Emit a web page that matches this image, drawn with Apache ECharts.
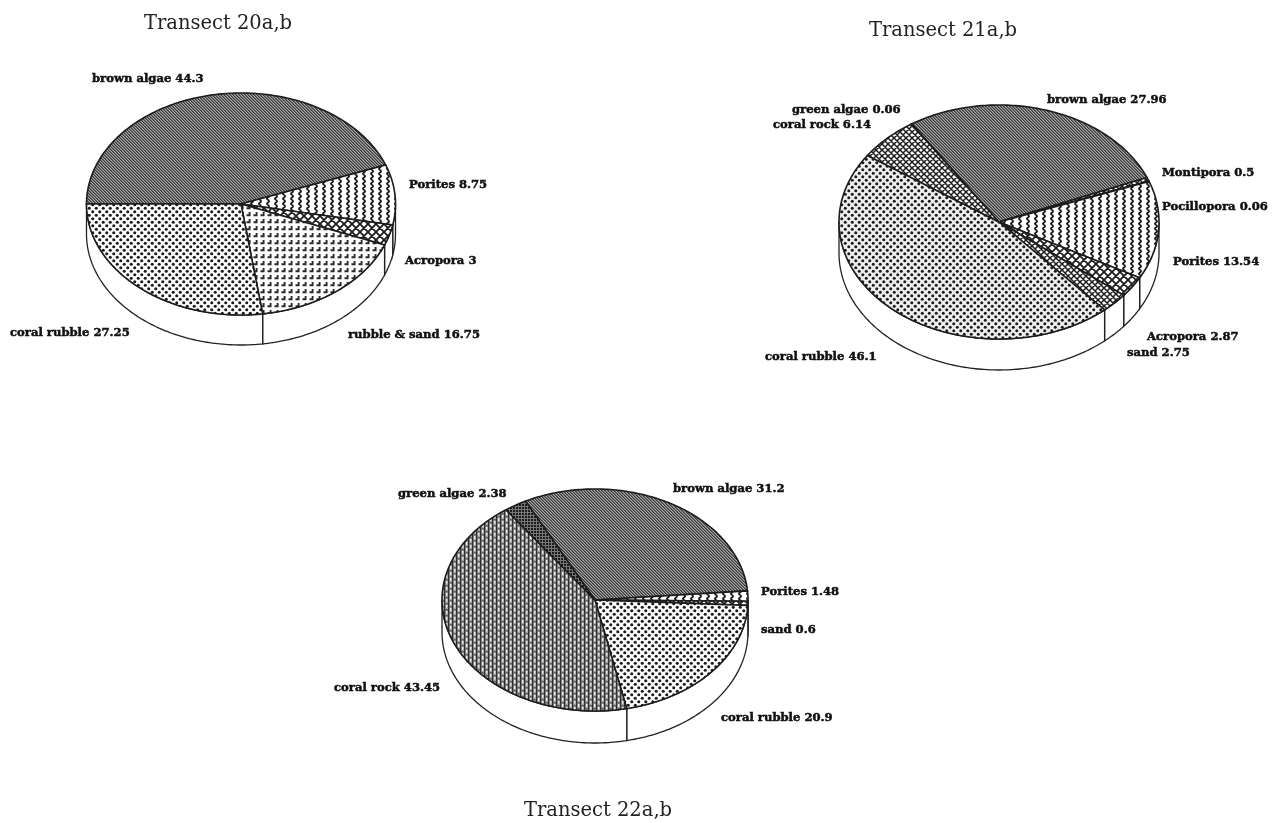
<!DOCTYPE html>
<html><head><meta charset="utf-8">
<style>html,body{margin:0;padding:0;background:#fff}#c{width:1286px;height:823px;filter:blur(0.6px)}</style>
<script src="https://cdn.jsdelivr.net/npm/echarts@6/dist/echarts.min.js"></script>
</head><body><div id="c"></div>
<script>
// ---- data ----
const names20 = ['brown algae','Porites','Acropora','rubble & sand','coral rubble'];
const values20 = [44.3,8.75,3,16.75,27.25];
const names21 = ['green algae','brown algae','Montipora','Pocillopora','Porites','Acropora','sand','coral rubble','coral rock'];
const values21 = [0.06,27.96,0.5,0.06,13.54,2.87,2.75,46.1,6.14];
const names22 = ['brown algae','Porites','sand','coral rubble','coral rock','green algae'];
const values22 = [31.2,1.48,0.6,20.9,43.45,2.38];
const titles = ['Transect 20a,b','Transect 21a,b','Transect 22a,b'];

// ---- layout (pixels, no values) ----
const layouts = [
 {cx:241,cy:204,rx:154.5,ry:111,depth:30,start:180,tx:213,ty:19,
  labels:[[92,79],[409,185],[405,261],[348,335],[10,333]]},
 {cx:999,cy:222,rx:160,ry:117,depth:31,start:123.2,tx:938,ty:26,
  labels:[[792,110],[1047,100],[1162,173],[1162,207],[1173,262],[1147,337],[1127,353],[765,357],[773,125]]},
 {cx:595,cy:600,rx:153,ry:111,depth:32,start:117,tx:593,ty:806,
  labels:[[673,489],[761,592],[761,630],[721,718],[334,688],[398,494]]}
];

// ---- hatch fills ----
function tile(w,h,draw,bg){const c=document.createElement('canvas');c.width=w;c.height=h;const g=c.getContext('2d');
 g.fillStyle=bg||'#fff';g.fillRect(0,0,w,h);g.strokeStyle=g.fillStyle='#1c1c1c';draw(g,w,h);return {image:c,repeat:'repeat'};}
function dots(g,r,pts){pts.forEach(p=>{g.beginPath();g.arc(p[0],p[1],r,0,7);g.fill();});}
const hBrown=tile(3,3,(g)=>{g.fillStyle='#3a3a3a';for(let i=0;i<3;i++){g.fillRect(i,i,1,1);} g.fillStyle='#6a6a6a';for(let i=0;i<3;i++){g.fillRect((i+1)%3,i,1,1);}},'#a8a8a8');
const hWave=tile(8,5,(g)=>{g.lineWidth=1.7;g.beginPath();for(let y=-1;y<=6;y+=.25){const x=4+1.1*Math.sin(y/5*2*Math.PI);y<0?g.moveTo(x,y):g.lineTo(x,y);}g.stroke();});
const diag=(n,lw)=>tile(n,n,(g)=>{g.lineWidth=lw;g.beginPath();g.moveTo(-1,-1);g.lineTo(n+1,n+1);g.moveTo(n+1,-1);g.lineTo(-1,n+1);
  g.moveTo(-1,n-1);g.lineTo(1,n+1);g.moveTo(n-1,-1);g.lineTo(n+1,1);g.stroke();});
const hDiamond=diag(8,1.8);
const hCross=diag(6,1.5);
const hHook=tile(7,7,(g)=>{g.lineWidth=1.9;g.strokeStyle='#2a2a2a';g.beginPath();g.moveTo(1.5,5.2);g.lineTo(4.6,5.2);g.lineTo(4.6,2);g.stroke();});
const hDots=tile(7,7,(g)=>{dots(g,1.55,[[1.75,1.75],[5.25,5.25]]);});
const hDotsFine=tile(7,7,(g)=>{dots(g,1.5,[[1.75,1.75],[5.25,5.25]]);},'#eee');
const hRock=tile(8,6,(g)=>{g.fillStyle='#303030';g.fillRect(0,0,1.3,6);g.fillRect(4,0,1.3,6);
  g.fillStyle='#606060';g.fillRect(1.3,0,2.7,1.5);g.fillRect(5.3,3,2.7,1.5);
  g.fillStyle='#f0f0f0';g.fillRect(2,2,1.2,3);g.fillRect(6,5,1.2,3);g.fillRect(6,0,1.2,1.5);},'#a4a4a4');
const hGreen=tile(3,3,(g)=>{g.fillRect(0,0,2,2);},'#777');
const fills=[
 [hBrown,hWave,hDiamond,hHook,hDots],
 [hGreen,hBrown,hCross,hCross,hWave,hDiamond,hCross,hDotsFine,hCross],
 [hBrown,hWave,hDiamond,hDots,hRock,hGreen]
];

const rad=d=>d*Math.PI/180;
function arc(L,a,b,dy){const n=Math.max(2,Math.ceil(Math.abs(a-b))+1),p=[];
 for(let i=0;i<n;i++){const t=rad(a+(b-a)*i/(n-1));p.push([L.cx+L.rx*Math.cos(t),L.cy+dy-L.ry*Math.sin(t)]);}return p;}
function sweeps(values,L){const tot=values.reduce((s,v)=>s+v,0);let a=L.start;
 return values.map(v=>{const b=a-v/tot*360,r=[a,b];a=b;return r;});}

function wallSeries(values,L){const sw=sweeps(values,L);return {type:'custom',coordinateSystem:'none',z:1,silent:true,animation:false,
 data:values.map((v,i)=>[i,v]),
 renderItem(p,api){const [a,b]=sw[api.value(0)],ch=[];
  for(const [hi,lo] of [[0,-180],[-360,-540]]){const u=Math.min(a,hi),w=Math.max(b,lo);
   if(u>w){ch.push({type:'polygon',shape:{points:arc(L,u,w,0).concat(arc(L,w,u,L.depth))},
     style:{fill:'#fff',stroke:'#222',lineWidth:1.3}});}}
  return {type:'group',children:ch};}};}
function topSeries(names,values,L,fl){const sw=sweeps(values,L);return {type:'custom',coordinateSystem:'none',z:2,silent:true,animation:false,
 data:values.map((v,i)=>[i,v]),
 renderItem(p,api){const i=api.value(0),[a,b]=sw[i];
  return {type:'group',children:[
   {type:'polygon',shape:{points:[[L.cx,L.cy]].concat(arc(L,a,b,0))},style:{fill:fl[i],stroke:'#1c1c1c',lineWidth:1.6}},
   {type:'text',style:{text:names[i]+' '+api.value(1),x:L.labels[i][0],y:L.labels[i][1],font:'bold 11.6px "DejaVu Serif"',fill:'#111',stroke:'#111',lineWidth:0.5,verticalAlign:'middle',align:'left'}}
  ]};}};}

const sets=[[names20,values20],[names21,values21],[names22,values22]];
const series=[];
sets.forEach(([n,v],k)=>{series.push(wallSeries(v,layouts[k]),topSeries(n,v,layouts[k],fills[k]));});
const chart=echarts.init(document.getElementById('c'),null,{renderer:'canvas'});
chart.setOption({backgroundColor:'#fff',animation:false,
 title:titles.map((t,k)=>({text:t,left:layouts[k].tx,top:layouts[k].ty,textAlign:'center',textVerticalAlign:'middle',
   textStyle:{fontFamily:'DejaVu Serif',fontWeight:'normal',fontSize:19.5,color:'#222'}})),
 series});
</script></body></html>
